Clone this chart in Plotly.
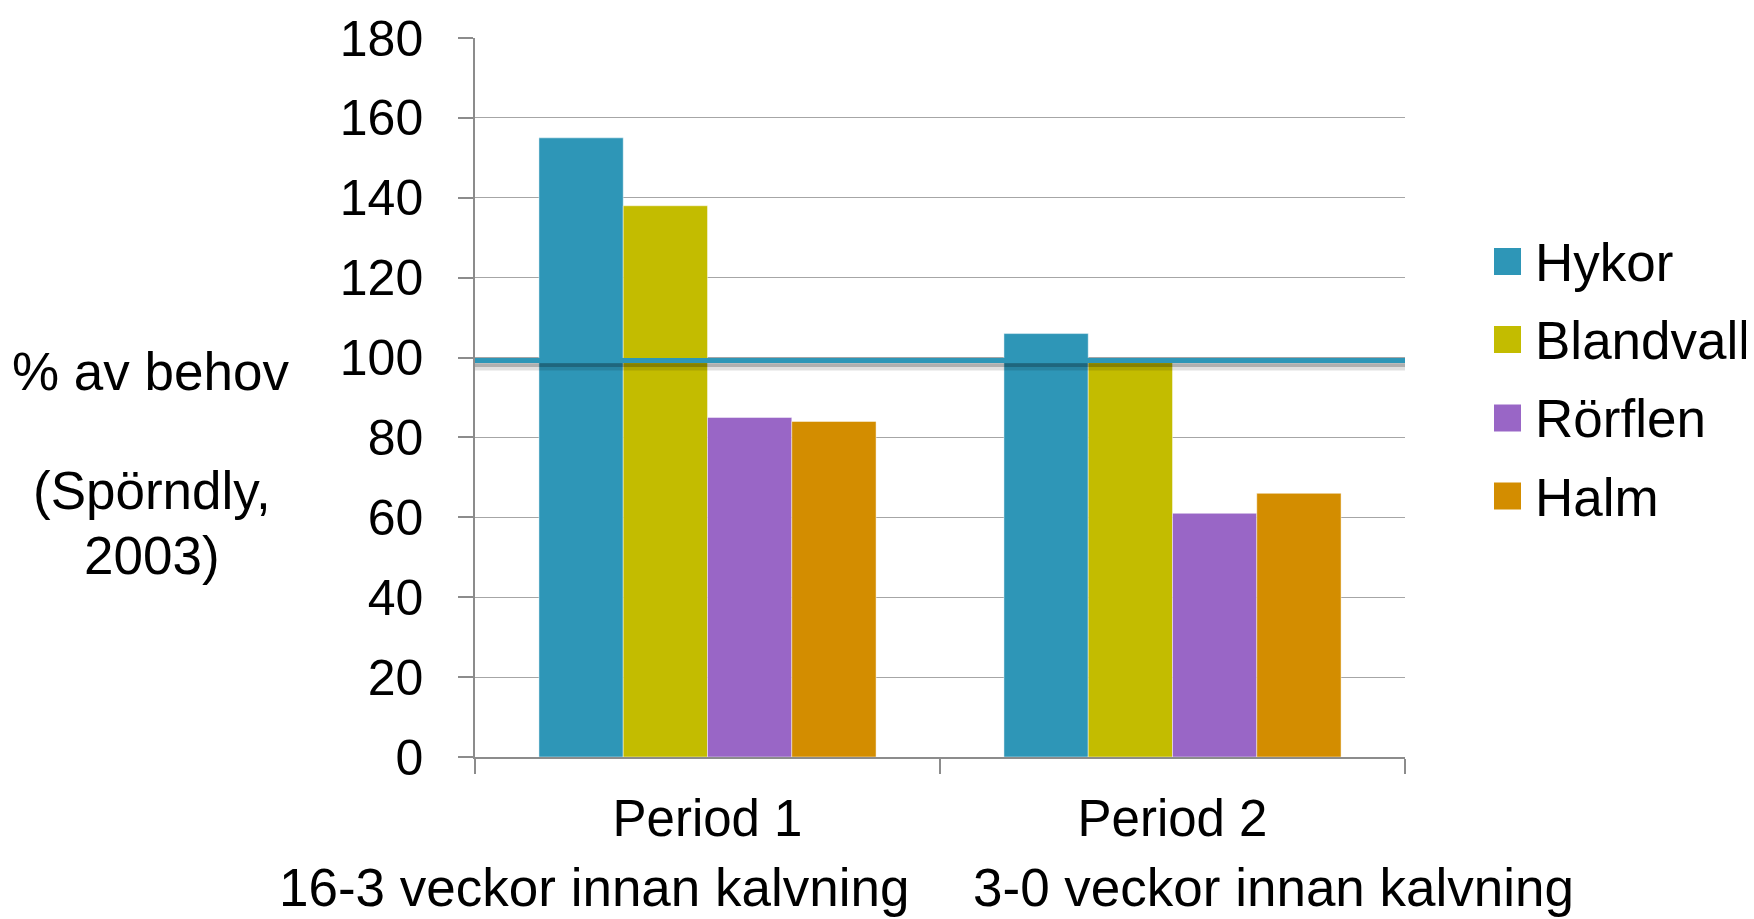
import plotly.graph_objects as go

categories = ["Period 1", "Period 2"]
subtitles = ["16-3 veckor innan kalvning", "3-0 veckor innan kalvning"]
series_names = ["Hykor", "Blandvall", "Rörflen", "Halm"]
hykor = [155, 106]
blandvall = [138, 99]
rorflen = [85, 61]
halm = [84, 66]
reference_level = 99.25
y_ticks = [0, 20, 40, 60, 80, 100, 120, 140, 160, 180]
colors = ["#2E96B7", "#C3BC00", "#9966C6", "#D38D00"]
ylabel_lines = ["% av behov", "(Spörndly,", "2003)"]

values = [hykor, blandvall, rorflen, halm]

FONT = "Liberation Sans, Arial, sans-serif"
# page body has an 8px margin, so the figure is 8px smaller and all positions shifted by -8
OFF = 8
W, H = 1754 - OFF, 919 - OFF
L, T = 475 - OFF, 38 - OFF
R, B = 349, 162
PH = H - T - B
PW = W - L - R


def px(xfull):
    return (xfull - OFF - L) / PW


def py(yfull):
    return (H - B - (yfull - OFF)) / PH


fig = go.Figure()
for name, vals, col in zip(series_names, values, colors):
    fig.add_trace(go.Bar(
        x=categories, y=vals, name=name,
        marker=dict(color=col, line=dict(color="rgba(255,255,255,0.45)", width=1)),
        showlegend=False,
    ))

shapes = []
# soft shadow of the reference line
shapes.append(dict(type="line", xref="paper", yref="y", x0=0, x1=1,
                   y0=reference_level - 1.6, y1=reference_level - 1.6,
                   line=dict(color="rgba(0,0,0,0.12)", width=7), layer="above"))
shapes.append(dict(type="line", xref="paper", yref="y", x0=0, x1=1,
                   y0=reference_level - 1.1, y1=reference_level - 1.1,
                   line=dict(color="rgba(0,0,0,0.22)", width=4), layer="above"))
shapes.append(dict(type="line", xref="paper", yref="y", x0=0, x1=1,
                   y0=reference_level, y1=reference_level,
                   line=dict(color="#2E96B7", width=5), layer="above"))

annotations = []
# manual legend (large square swatches)
legend_centers = [261.5, 339.5, 418, 496]
half = 13.5
for name, col, cy in zip(series_names, colors, legend_centers):
    shapes.append(dict(type="rect", xref="paper", yref="paper",
                       x0=px(1494), x1=px(1521),
                       y0=py(cy + half), y1=py(cy - half),
                       fillcolor=col, line=dict(width=0)))
    annotations.append(dict(xref="paper", yref="paper", x=px(1533), y=py(cy + 1),
                            text=name, showarrow=False, xanchor="left", yanchor="middle",
                            font=dict(family=FONT, size=53, color="#000000")))

# y-axis side texts
ylabel_pos = [(150, 371), (152, 491), (152, 555)]
for txt, (xc, yc) in zip(ylabel_lines, ylabel_pos):
    annotations.append(dict(xref="paper", yref="paper", x=px(xc), y=py(yc),
                            text=txt, showarrow=False, xanchor="center", yanchor="middle",
                            font=dict(family=FONT, size=53, color="#000000")))

# second line of the category labels
sub_pos = [594, 1273]
for txt, xc in zip(subtitles, sub_pos):
    annotations.append(dict(xref="paper", yref="paper", x=px(xc), y=py(887),
                            text=txt, showarrow=False, xanchor="center", yanchor="middle",
                            font=dict(family=FONT, size=53, color="#000000")))

fig.update_layout(
    width=W, height=H,
    margin=dict(l=L, r=R, t=T, b=B, pad=0),
    paper_bgcolor="white", plot_bgcolor="white",
    barmode="group", bargap=0.275, bargroupgap=0,
    font=dict(family=FONT, size=50, color="#000000"),
    shapes=shapes, annotations=annotations,
    showlegend=False,
)
fig.update_xaxes(
    type="category", tickson="boundaries", ticks="outside", ticklen=15,
    tickcolor="#8C8C8C", tickwidth=1.5, tickangle=0, automargin=False,
    showline=True, linecolor="#8C8C8C", linewidth=1.5,
    showgrid=False, ticklabelstandoff=16,
    tickfont=dict(family=FONT, size=51, color="#000000"),
)
fig.update_yaxes(
    range=[0, 180], tickvals=y_ticks, ticks="outside", ticklen=15,
    tickcolor="#8C8C8C", tickwidth=1.5, automargin=False,
    showline=True, linecolor="#8C8C8C", linewidth=1.5,
    showgrid=True, gridcolor="#A6A6A6", gridwidth=1.2,
    zeroline=False, ticklabelstandoff=25,
    tickfont=dict(family=FONT, size=50, color="#000000"),
)

fig.write_html("out.html")
